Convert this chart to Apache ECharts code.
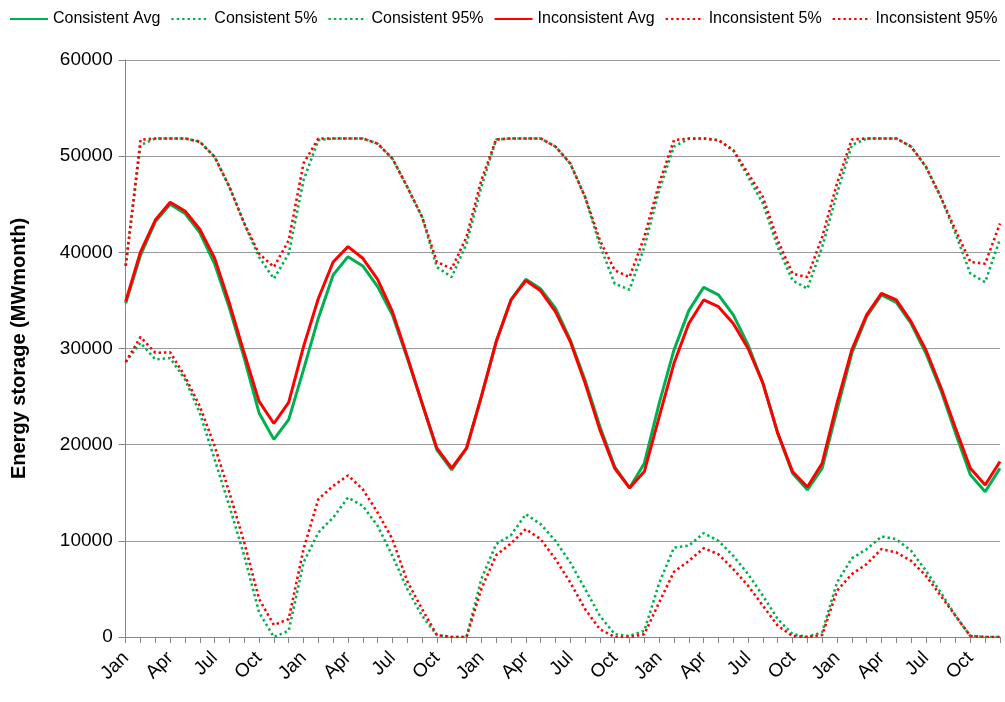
<!DOCTYPE html>
<html>
<head>
<meta charset="utf-8">
<script src="https://cdn.jsdelivr.net/npm/echarts@6/dist/echarts.min.js"></script>
<style>
html,body{margin:0;padding:0;background:#fff;}
#chart{width:1005px;height:702px;}
</style>
</head>
<body>
<div id="chart"></div>
<script>
var monthNames = ['Jan','Feb','Mar','Apr','May','Jun','Jul','Aug','Sep','Oct','Nov','Dec'];
var years = 5;
var categories = [];
for (var y = 0; y < years; y++) { for (var m = 0; m < 12; m++) { categories.push(monthNames[m]); } }

var yTicks = [0, 10000, 20000, 30000, 40000, 50000, 60000];

var consistentAvg = [34700,39700,43200,45000,44050,42050,38800,34200,29000,23300,20550,22600,
  27800,33150,37650,39550,38580,36430,33490,29000,24300,19460,17380,19600,
  25000,30700,35050,37200,36200,34200,30900,26700,21900,17700,15500,18070,
  24300,29850,33940,36360,35570,33490,30370,26400,21200,17030,15300,17550,
  23600,29500,33300,35570,34800,32600,29500,25700,21200,16860,15100,17550];

var consistent5 = [28600,30600,28860,29000,26800,23300,18480,13600,8440,2560,0,650,
  7750,10870,12420,14500,13630,11560,8440,5000,2200,200,0,0,
  6020,9660,10590,12770,11730,10000,7750,5000,2200,300,100,650,
  5600,9300,9500,10800,10000,8440,6540,4290,1870,300,0,500,
  5670,8170,9140,10450,10170,8960,6890,4640,2200,100,0,0];

var consistent95 = [38600,51150,51840,51840,51840,51500,49930,46800,43000,39500,37260,39860,
  47500,51670,51840,51840,51840,51300,49750,46800,43680,38470,37430,40900,
  46800,51740,51840,51840,51840,51000,49240,45760,40730,36740,36110,40560,
  46460,51000,51800,51840,51670,50620,47850,45070,40560,37080,36220,40560,
  46110,51150,51840,51840,51840,51000,48900,45760,41950,37780,36900,41400];

var inconsistentAvg = [34900,40050,43360,45200,44300,42400,39400,34700,29500,24500,22200,24400,
  30200,35200,39000,40590,39380,37200,33830,29160,24300,19630,17550,19630,
  25000,30700,35050,37060,36000,33830,30720,26400,21540,17550,15500,17200,
  22900,28460,32600,35050,34350,32600,30000,26400,21200,17200,15600,18070,
  24300,29850,33490,35740,35050,32800,29850,26000,21700,17550,15800,18250];

var inconsistent5 = [28600,31200,29550,29600,27100,24000,19860,15000,9830,3950,1250,1870,
  9140,14330,15710,16800,15360,12940,10170,5800,2900,200,0,0,
  5000,8510,9730,11220,10170,8100,5670,2900,800,0,0,300,
  3600,6780,7900,9240,8600,7060,5330,3250,1180,100,0,200,
  4810,6540,7580,9140,8790,7920,6370,4290,2200,100,0,0];

var inconsistent95 = [38600,51700,51840,51840,51840,51500,49930,46800,43000,39860,38470,41250,
  49240,51840,51840,51840,51840,51300,49750,46800,43680,39000,38300,41600,
  47500,51740,51840,51840,51840,51000,49240,45760,41250,38130,37430,41600,
  47150,51670,51840,51840,51670,50620,48200,45760,41250,37780,37430,41600,
  47150,51740,51840,51840,51840,51000,48900,45760,42300,39000,38820,43000];

var GREEN = '#00B050', RED = '#FF0000';
var FONT = "'Liberation Sans', Arial, sans-serif";

function mk(name, data, color, dotted) {
  return {
    name: name, type: 'line', data: data, symbol: 'none', smooth: false,
    lineStyle: dotted ? { color: color, width: 2.6, type: [2.4, 3] } : { color: color, width: 3 },
    itemStyle: { color: color },
    emphasis: { disabled: true }
  };
}

var chart = echarts.init(document.getElementById('chart'), null, { renderer: 'canvas' });
chart.setOption({
  animation: false,
  backgroundColor: '#fff',
  legend: {
    top: 6, left: 4, width: 1001, itemWidth: 38, itemHeight: 12, itemGap: 10,
    itemStyle: { opacity: 0 },
    textStyle: { fontFamily: FONT, fontSize: 16, color: '#000' },
    data: ['Consistent Avg','Consistent 5%','Consistent 95%','Inconsistent Avg','Inconsistent 5%','Inconsistent 95%']
  },
  grid: { left: 125.7, right: 5, top: 60, bottom: 65, containLabel: false },
  xAxis: {
    type: 'category', data: categories, boundaryGap: false,
    axisLine: { lineStyle: { color: '#868686', width: 1 } },
    axisTick: { show: true, interval: 0, length: 6, lineStyle: { color: '#868686' } },
    axisLabel: { interval: 2, rotate: 45, fontFamily: FONT, fontSize: 19, color: '#000', margin: 18 },
    splitLine: { show: false }
  },
  yAxis: {
    type: 'value', min: yTicks[0], max: yTicks[yTicks.length - 1], interval: 10000,
    name: 'Energy storage (MWmonth)', nameLocation: 'middle', nameGap: 96,
    nameTextStyle: { fontFamily: FONT, fontWeight: 'bold', fontSize: 20, color: '#000' },
    axisLine: { show: true, lineStyle: { color: '#868686', width: 1 } },
    axisTick: { show: true, length: 7, lineStyle: { color: '#868686' } },
    axisLabel: { fontFamily: FONT, fontSize: 19, color: '#000', margin: 13, formatter: function (v) { return String(v); } },
    splitLine: { show: true, lineStyle: { color: '#9a9a9a', width: 1 } }
  },
  series: [
    mk('Consistent Avg', consistentAvg, GREEN, false),
    mk('Consistent 5%', consistent5, GREEN, true),
    mk('Consistent 95%', consistent95, GREEN, true),
    mk('Inconsistent Avg', inconsistentAvg, RED, false),
    mk('Inconsistent 5%', inconsistent5, RED, true),
    mk('Inconsistent 95%', inconsistent95, RED, true)
  ]
});
</script>
</body>
</html>
